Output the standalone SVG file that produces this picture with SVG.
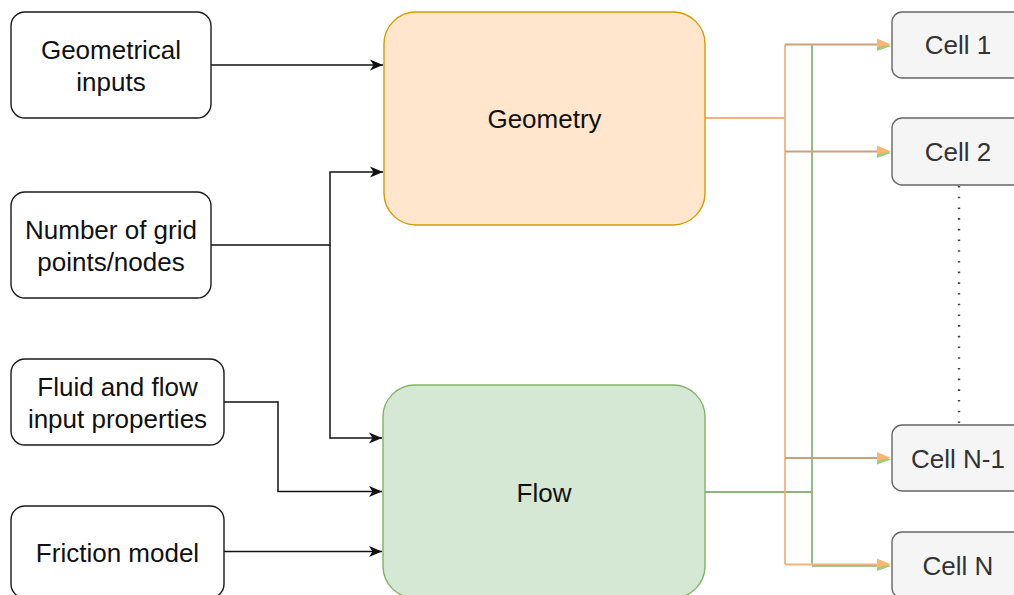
<svg xmlns="http://www.w3.org/2000/svg" width="1014" height="595" viewBox="0 0 1014 595">
<defs>
<style>
.in rect{fill:#fff;stroke:#1a1a1a;stroke-width:1.4}
.geo rect{fill:#ffe6cc;stroke:#d79b00;stroke-width:1.4}
.flow rect{fill:#d5e8d4;stroke:#82b366;stroke-width:1.4}
.cell rect{fill:#f5f5f5;stroke:#666;stroke-width:1.4}
text{font-family:"Liberation Sans",Arial,sans-serif;font-size:26px;text-anchor:middle;fill:#111}
.cell text{fill:#333}
.blk{fill:none;stroke:#111;stroke-width:1.5}
.org{fill:none;stroke:#F6B277;stroke-width:1.8}
.grn{fill:none;stroke:#8BB47A;stroke-width:1.8}
.brn{fill:none;stroke:#C9A27C;stroke-width:1.8}
</style>
<marker id="ab" markerWidth="14" markerHeight="12" refX="13" refY="6" orient="auto" markerUnits="userSpaceOnUse">
<path d="M0,0.5 L13,6 L0,11.5 L3.5,6 Z" fill="#111"/>
</marker>
</defs>
<g id="connectors">
<path class="blk" d="M211,65 H383" marker-end="url(#ab)"/>
<path class="blk" d="M211,245 H330 V172 H383" marker-end="url(#ab)"/>
<path class="blk" d="M330,245 V438 H382" marker-end="url(#ab)"/>
<path class="blk" d="M224,402 H278 V491.5 H382" marker-end="url(#ab)"/>
<path class="blk" d="M224,551.5 H382" marker-end="url(#ab)"/>
<!-- green (flow) -->
<path class="grn" d="M705,492 H812 M812,45 V565 M812,565.8 H880"/>
<!-- orange (geometry) -->
<path class="org" d="M705,118 H785 M785,44.5 V564.5 M785,564.5 H880"/>
<path class="brn" d="M785,44.5 H880 M785,151.5 H880 M785,458 H880"/>
<g fill="#97D077">
<path d="M877,41 L891,46 L877,51 Z"/>
<path d="M877,148 L891,153 L877,158 Z"/>
<path d="M877,454.5 L891,459.5 L877,464.5 Z"/>
<path d="M877,561 L891,566 L877,571 Z"/>
</g>
<g fill="#FFB570">
<path d="M877,38.5 L891,44.5 L877,47.5 Z"/>
<path d="M877,145.5 L891,151.5 L877,154.5 Z"/>
<path d="M877,452 L891,458 L877,461 Z"/>
<path d="M877,558.5 L891,564.5 L877,567.5 Z"/>
</g>
<path d="M959,186 V425" stroke="#444" stroke-width="2.4" stroke-dasharray="1.6 9.1" fill="none"/>
</g>
<g id="geometrical-inputs" class="in">
<rect x="11" y="12" width="200" height="106" rx="14"/>
<text x="111" y="59">Geometrical</text>
<text x="111" y="91">inputs</text>
</g>
<g id="grid-points" class="in">
<rect x="11" y="192" width="200" height="106" rx="14"/>
<text x="111" y="239">Number of grid</text>
<text x="111" y="271">points/nodes</text>
</g>
<g id="fluid-props" class="in">
<rect x="11" y="359" width="213" height="86" rx="14"/>
<text x="117.5" y="396">Fluid and flow</text>
<text x="117.5" y="428">input properties</text>
</g>
<g id="friction-model" class="in">
<rect x="11" y="506" width="213" height="92" rx="14"/>
<text x="117.5" y="562">Friction model</text>
</g>
<g id="geometry" class="geo">
<rect x="384" y="12" width="321" height="213" rx="32"/>
<text x="544.5" y="128">Geometry</text>
</g>
<g id="flow" class="flow">
<rect x="383" y="385" width="322" height="213" rx="32"/>
<text x="544" y="501.5">Flow</text>
</g>
<g id="cell-1" class="cell">
<rect x="892" y="12" width="134" height="66" rx="10"/>
<text x="958" y="54">Cell 1</text>
</g>
<g id="cell-2" class="cell">
<rect x="892" y="118" width="134" height="67" rx="10"/>
<text x="958" y="161">Cell 2</text>
</g>
<g id="cell-n-1" class="cell">
<rect x="892" y="425" width="134" height="66" rx="10"/>
<text x="958" y="468">Cell N-1</text>
</g>
<g id="cell-n" class="cell">
<rect x="892" y="532" width="134" height="66" rx="10"/>
<text x="958" y="575">Cell N</text>
</g>
</svg>
